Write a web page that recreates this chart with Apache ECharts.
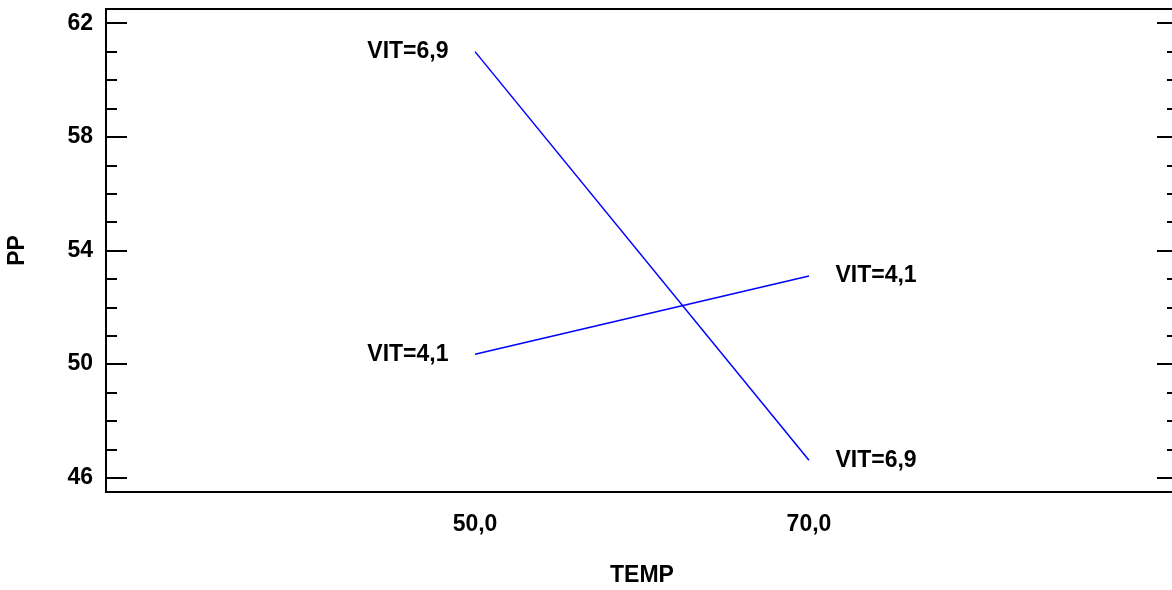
<!DOCTYPE html>
<html>
<head>
<meta charset="utf-8">
<script src="https://cdn.jsdelivr.net/npm/echarts@6/dist/echarts.min.js"></script>
<style>
html,body{margin:0;padding:0;background:#fff;}
#chart{width:1172px;height:590px;}
</style>
</head>
<body>
<div id="chart"></div>
<script>
// ---- data ----
const temps = [50, 70];
const vit69 = [61.0, 46.62];
const vit41 = [50.35, 53.1];
const seriesNames = ['VIT=6,9', 'VIT=4,1'];
const yMajorTicks = [46, 50, 54, 58, 62];
const yMinorTicks = [47, 48, 49, 51, 52, 53, 55, 56, 57, 59, 60, 61];
const xTickLabels = [50, 70];

const FONT = "'Liberation Sans', Arial, sans-serif";
const txt = {fontFamily: FONT, fontWeight: 'bold', fontSize: 23, color: '#000'};

function buildData(vals, name) {
  return temps.map((t, i) => ({
    value: [t, vals[i]],
    label: {
      show: true,
      formatter: name,
      position: i === 0 ? 'left' : 'right',
      distance: 26,
      opacity: 1,
      ...txt
    }
  }));
}

const chart = echarts.init(document.getElementById('chart'), null, {renderer: 'canvas'});
const YMIN = 45.5, YMAX = 62.5;
const axisLineStyle = {show: true, lineStyle: {color: '#000', width: 2}};

function yAx(pos, ticks, len, withLabel) {
  return {
    type: 'value', min: YMIN, max: YMAX, position: pos,
    axisLine: axisLineStyle,
    splitLine: {show: false},
    axisTick: {show: true, inside: true, length: len, customValues: ticks, lineStyle: {color: '#000', width: 2}},
    axisLabel: withLabel ? {show: true, customValues: ticks, margin: 13, ...txt} : {show: false}
  };
}

const yAxes = [
  Object.assign(yAx('left', yMajorTicks, 21, true), {
    name: 'PP', nameLocation: 'middle', nameGap: 77, nameRotate: 90,
    nameTextStyle: {fontFamily: FONT, fontWeight: 'bold', fontSize: 23, color: '#000'}
  }),
  yAx('left', yMinorTicks, 11, false),
  yAx('right', yMajorTicks, 21, false),
  yAx('right', yMinorTicks, 11, false)
];

function lineSeries(idx, vals) {
  return {
    name: seriesNames[idx], type: 'line', xAxisIndex: 0, yAxisIndex: 0,
    data: temps.map((t, i) => [t, vals[i]]),
    symbol: 'none',
    lineStyle: {color: '#0000FF', width: 1.5}
  };
}
function labelSeries(idx, vals) {
  return {
    name: seriesNames[idx] + ' label', type: 'scatter', xAxisIndex: 0, yAxisIndex: 0,
    data: buildData(vals, seriesNames[idx]),
    symbol: 'circle', symbolSize: 1,
    itemStyle: {color: 'rgba(0,0,0,0)', opacity: 1},
    silent: true,
    labelLayout: {hideOverlap: false}
  };
}

chart.setOption({
  animation: false,
  backgroundColor: '#fff',
  grid: {left: 106, top: 9, width: 1072, bottom: 98, containLabel: false, outerBoundsMode: 'none'},
  xAxis: [{
    type: 'value', min: 27.9, max: 92.1, position: 'bottom',
    name: 'TEMP', nameLocation: 'middle', nameGap: 72,
    nameTextStyle: {fontFamily: FONT, fontWeight: 'bold', fontSize: 23, color: '#000'},
    axisLine: axisLineStyle,
    axisTick: {show: false},
    splitLine: {show: false},
    axisLabel: {
      show: true, customValues: xTickLabels, margin: 21,
      formatter: v => v.toFixed(1).replace('.', ','),
      ...txt
    }
  }, {
    type: 'value', min: 27.9, max: 92.1, position: 'top',
    axisLine: axisLineStyle, axisTick: {show: false}, axisLabel: {show: false}, splitLine: {show: false}
  }],
  yAxis: yAxes,
  series: [lineSeries(0, vit69), lineSeries(1, vit41), labelSeries(0, vit69), labelSeries(1, vit41)]
});
</script>
</body>
</html>
